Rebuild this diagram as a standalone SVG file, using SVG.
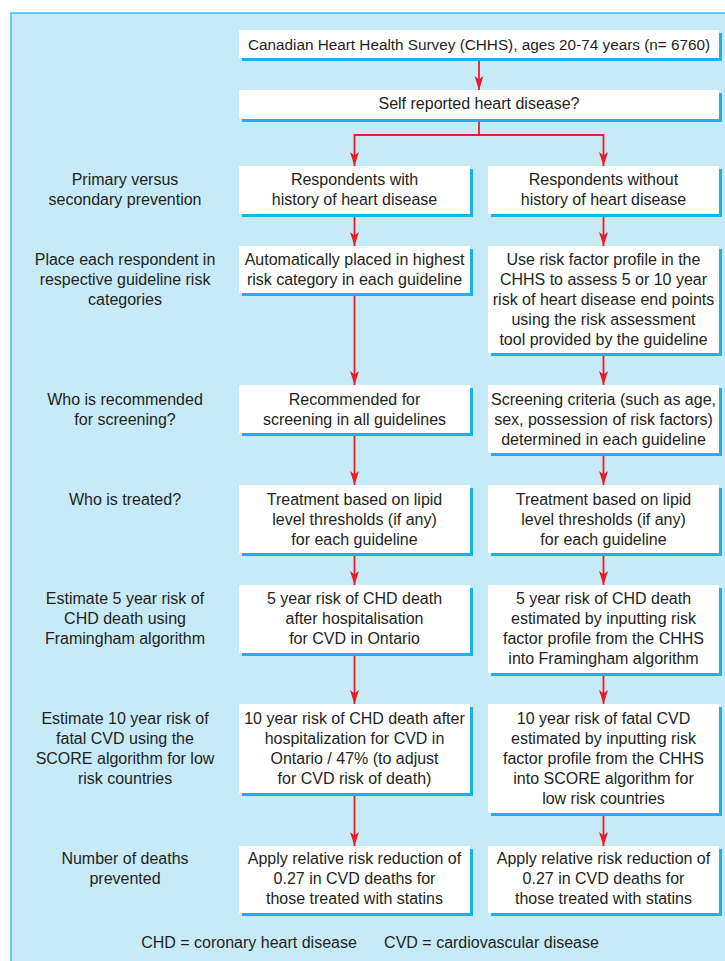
<svg xmlns="http://www.w3.org/2000/svg" width="725" height="961" viewBox="0 0 725 961">
<style>
text{font-family:"Liberation Sans",Arial,sans-serif;font-size:16px;fill:#231f20;text-anchor:middle}
.sh{fill:#1ab3e9}
.bx{fill:#ffffff}
.cn{stroke:#ed1c24;stroke-width:1.8;fill:none}
</style>
<defs>
<marker id="ah" markerUnits="userSpaceOnUse" viewBox="0 0 14 10" refX="14" refY="5" markerWidth="14" markerHeight="10" orient="auto">
<path d="M0,0.5 L14,5 L0,9.5 L3.5,5 Z" fill="#ed1c24"/>
</marker>
</defs>
<rect x="11" y="13" width="730" height="960" fill="#c7eaf9" stroke="#3db8ea" stroke-width="1.5"/>

<g id="labels">
<text x="125" y="185">Primary versus</text>
<text x="125" y="205">secondary prevention</text>
<text x="125" y="265">Place each respondent in</text>
<text x="125" y="285">respective guideline risk</text>
<text x="125" y="305">categories</text>
<text x="125" y="405">Who is recommended</text>
<text x="125" y="425">for screening?</text>
<text x="125" y="505">Who is treated?</text>
<text x="125" y="604">Estimate 5 year risk of</text>
<text x="125" y="624">CHD death using</text>
<text x="125" y="644">Framingham algorithm</text>
<text x="125" y="724">Estimate 10 year risk of</text>
<text x="125" y="744">fatal CVD using the</text>
<text x="125" y="764">SCORE algorithm for low</text>
<text x="125" y="784">risk countries</text>
<text x="125" y="864">Number of deaths</text>
<text x="125" y="884">prevented</text>
</g>

<g id="connectors">
<line class="cn" x1="479" y1="59" x2="479" y2="90" marker-end="url(#ah)"/>
<polyline class="cn" points="479,120 479,135 354.5,135 354.5,166" marker-end="url(#ah)"/>
<polyline class="cn" points="479,135 603.5,135 603.5,166" marker-end="url(#ah)"/>
<line class="cn" x1="354.5" y1="215" x2="354.5" y2="246" marker-end="url(#ah)"/>
<line class="cn" x1="603.5" y1="215" x2="603.5" y2="246" marker-end="url(#ah)"/>
<line class="cn" x1="354.5" y1="294" x2="354.5" y2="385" marker-end="url(#ah)"/>
<line class="cn" x1="603.5" y1="354" x2="603.5" y2="385" marker-end="url(#ah)"/>
<line class="cn" x1="354.5" y1="434" x2="354.5" y2="485" marker-end="url(#ah)"/>
<line class="cn" x1="603.5" y1="454" x2="603.5" y2="485" marker-end="url(#ah)"/>
<line class="cn" x1="354.5" y1="554" x2="354.5" y2="585" marker-end="url(#ah)"/>
<line class="cn" x1="603.5" y1="554" x2="603.5" y2="585" marker-end="url(#ah)"/>
<line class="cn" x1="354.5" y1="654" x2="354.5" y2="704" marker-end="url(#ah)"/>
<line class="cn" x1="603.5" y1="674" x2="603.5" y2="704" marker-end="url(#ah)"/>
<line class="cn" x1="354.5" y1="794" x2="354.5" y2="846" marker-end="url(#ah)"/>
<line class="cn" x1="603.5" y1="814" x2="603.5" y2="846" marker-end="url(#ah)"/>
</g>

<g id="n-chhs">
<rect class="sh" x="242" y="33" width="480" height="28"/>
<rect class="bx" x="239" y="30" width="480" height="28"/>
<text x="479" y="50" style="font-size:15.3px">Canadian Heart Health Survey (CHHS), ages 20-74 years (n= 6760)</text>
</g>
<g id="n-self">
<rect class="sh" x="242" y="93" width="480" height="29"/>
<rect class="bx" x="239" y="90" width="480" height="29"/>
<text x="479" y="109">Self reported heart disease?</text>
</g>

<g id="n-with">
<rect class="sh" x="242" y="169" width="231" height="48"/>
<rect class="bx" x="239" y="166" width="231" height="48"/>
<text x="354.5" y="185">Respondents with</text>
<text x="354.5" y="205">history of heart disease</text>
</g>
<g id="n-without">
<rect class="sh" x="491" y="169" width="231" height="48"/>
<rect class="bx" x="488" y="166" width="231" height="48"/>
<text x="603.5" y="185">Respondents without</text>
<text x="603.5" y="205">history of heart disease</text>
</g>

<g id="n-placed">
<rect class="sh" x="242" y="249" width="231" height="47"/>
<rect class="bx" x="239" y="246" width="231" height="47"/>
<text x="354.5" y="265">Automatically placed in highest</text>
<text x="354.5" y="285">risk category in each guideline</text>
</g>
<g id="n-profile">
<rect class="sh" x="491" y="249" width="231" height="107"/>
<rect class="bx" x="488" y="246" width="231" height="107"/>
<text x="603.5" y="265">Use risk factor profile in the</text>
<text x="603.5" y="285">CHHS to assess 5 or 10 year</text>
<text x="603.5" y="305">risk of heart disease end points</text>
<text x="603.5" y="325">using the risk assessment</text>
<text x="603.5" y="345">tool provided by the guideline</text>
</g>

<g id="n-recommended">
<rect class="sh" x="242" y="388" width="231" height="48"/>
<rect class="bx" x="239" y="385" width="231" height="48"/>
<text x="354.5" y="405">Recommended for</text>
<text x="354.5" y="425">screening in all guidelines</text>
</g>
<g id="n-criteria">
<rect class="sh" x="491" y="388" width="231" height="68"/>
<rect class="bx" x="488" y="385" width="231" height="68"/>
<text x="603.5" y="405">Screening criteria (such as age,</text>
<text x="603.5" y="425">sex, possession of risk factors)</text>
<text x="603.5" y="445">determined in each guideline</text>
</g>

<g id="n-treat-l">
<rect class="sh" x="242" y="488" width="231" height="68"/>
<rect class="bx" x="239" y="485" width="231" height="68"/>
<text x="354.5" y="505">Treatment based on lipid</text>
<text x="354.5" y="525">level thresholds (if any)</text>
<text x="354.5" y="545">for each guideline</text>
</g>
<g id="n-treat-r">
<rect class="sh" x="491" y="488" width="231" height="68"/>
<rect class="bx" x="488" y="485" width="231" height="68"/>
<text x="603.5" y="505">Treatment based on lipid</text>
<text x="603.5" y="525">level thresholds (if any)</text>
<text x="603.5" y="545">for each guideline</text>
</g>

<g id="n-5yr-l">
<rect class="sh" x="242" y="588" width="231" height="68"/>
<rect class="bx" x="239" y="585" width="231" height="68"/>
<text x="354.5" y="604">5 year risk of CHD death</text>
<text x="354.5" y="624">after hospitalisation</text>
<text x="354.5" y="644">for CVD in Ontario</text>
</g>
<g id="n-5yr-r">
<rect class="sh" x="491" y="588" width="231" height="88"/>
<rect class="bx" x="488" y="585" width="231" height="88"/>
<text x="603.5" y="604">5 year risk of CHD death</text>
<text x="603.5" y="624">estimated by inputting risk</text>
<text x="603.5" y="644">factor profile from the CHHS</text>
<text x="603.5" y="664">into Framingham algorithm</text>
</g>

<g id="n-10yr-l">
<rect class="sh" x="242" y="707" width="231" height="89"/>
<rect class="bx" x="239" y="704" width="231" height="89"/>
<text x="354.5" y="724">10 year risk of CHD death after</text>
<text x="354.5" y="744">hospitalization for CVD in</text>
<text x="354.5" y="764">Ontario / 47% (to adjust</text>
<text x="354.5" y="784">for CVD risk of death)</text>
</g>
<g id="n-10yr-r">
<rect class="sh" x="491" y="707" width="231" height="109"/>
<rect class="bx" x="488" y="704" width="231" height="109"/>
<text x="603.5" y="724">10 year risk of fatal CVD</text>
<text x="603.5" y="744">estimated by inputting risk</text>
<text x="603.5" y="764">factor profile from the CHHS</text>
<text x="603.5" y="784">into SCORE algorithm for</text>
<text x="603.5" y="804">low risk countries</text>
</g>

<g id="n-rrr-l">
<rect class="sh" x="242" y="849" width="231" height="67"/>
<rect class="bx" x="239" y="846" width="231" height="67"/>
<text x="354.5" y="864">Apply relative risk reduction of</text>
<text x="354.5" y="884">0.27 in CVD deaths for</text>
<text x="354.5" y="904">those treated with statins</text>
</g>
<g id="n-rrr-r">
<rect class="sh" x="491" y="849" width="231" height="67"/>
<rect class="bx" x="488" y="846" width="231" height="67"/>
<text x="603.5" y="864">Apply relative risk reduction of</text>
<text x="603.5" y="884">0.27 in CVD deaths for</text>
<text x="603.5" y="904">those treated with statins</text>
</g>

<g id="legend">
<text x="249" y="948">CHD = coronary heart disease</text>
<text x="491.5" y="948">CVD = cardiovascular disease</text>
</g>
</svg>
